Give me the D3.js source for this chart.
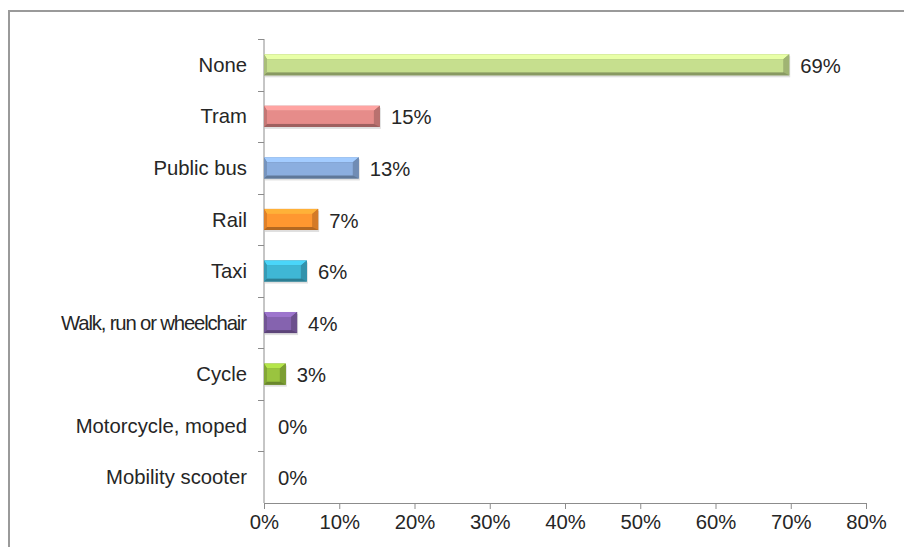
<!DOCTYPE html>
<html>
<head>
<meta charset="utf-8">
<script src="https://cdn.jsdelivr.net/npm/d3@7"></script>
<style>
  body { margin: 0; background: #fff; }
  text { font-family: "Liberation Sans", Arial, sans-serif; fill: #262626; }
</style>
</head>
<body>
<div id="chart"></div>
<script>
// survey answers, share of respondents
var categories = ["None", "Tram", "Public bus", "Rail", "Taxi", "Walk, run or wheelchair", "Cycle", "Motorcycle, moped", "Mobility scooter"];
var values = [69.8, 15.4, 12.6, 7.2, 5.7, 4.4, 2.9, 0, 0];
var valueLabels = ["69%", "15%", "13%", "7%", "6%", "4%", "3%", "0%", "0%"];
var xTicks = [0, 10, 20, 30, 40, 50, 60, 70, 80];
var barColours = ["#b5cc82", "#d2807e", "#7f9fcc", "#f08a2c", "#3aa7c3", "#7a5ba0", "#8db33a", "#9bbb59", "#9bbb59"];

var width = 904, height = 547;
// note: "top" is taken by window.top, so plot edges get their own names
var plotLeft = 264, plotRight = 866, plotTop = 39, plotBottom = 503;
var fontSize = 20.3;

var svg = d3.select("#chart").append("svg")
    .attr("width", width)
    .attr("height", height);

// outer frame, runs off the right and bottom edge
svg.append("rect")
    .attr("x", 9).attr("y", 11)
    .attr("width", 920).attr("height", 560)
    .attr("fill", "none")
    .attr("stroke", "#9a9a9a")
    .attr("stroke-width", 2);

var x = d3.scaleLinear().domain([0, 80]).range([plotLeft, plotRight]);
var y = d3.scaleBand().domain(categories).range([plotTop, plotBottom]).paddingInner(0.59).paddingOuter(0.295);
var yb = d3.scaleBand().domain(categories).range([plotTop, plotBottom]);

// y axis line + ticks between bands
svg.append("line")
    .attr("x1", plotLeft).attr("x2", plotLeft)
    .attr("y1", plotTop).attr("y2", plotBottom)
    .attr("stroke", "#8c8c8c");
svg.selectAll(".ytick").data(categories).enter().append("line")
    .attr("x1", plotLeft - 6).attr("x2", plotLeft)
    .attr("y1", function(d) { return Math.round(yb(d)) + 0.5; })
    .attr("y2", function(d) { return Math.round(yb(d)) + 0.5; })
    .attr("stroke", "#8c8c8c");

// x axis
var xAxis = svg.append("g")
    .attr("transform", "translate(0," + plotBottom + ")")
    .call(d3.axisBottom(x).tickValues(xTicks).tickSize(6).tickFormat(function(d) { return d + "%"; }));
xAxis.select(".domain").attr("stroke", "#8c8c8c");
xAxis.selectAll(".tick line").attr("stroke", "#8c8c8c");
xAxis.selectAll("text")
    .attr("font-size", fontSize)
    .attr("y", 12)
    .style("font-family", "'Liberation Sans', Arial, sans-serif")
    .attr("fill", "#262626");

// category labels (long one is tightly spaced like in the original)
svg.selectAll(".cat").data(categories).enter().append("text")
    .attr("x", plotLeft - 17)
    .attr("y", function(d) { return yb(d) + yb.bandwidth() / 2; })
    .attr("dy", "0.35em")
    .attr("text-anchor", "end")
    .attr("font-size", fontSize)
    .text(function(d) { return d; })
    .each(function() {
      if (this.getComputedTextLength() > 186) {
        d3.select(this).attr("textLength", 186).attr("lengthAdjust", "spacing");
      }
    });

// bevelled bars
var bars = svg.selectAll(".bar").data(categories).enter().append("g");
bars.each(function(d, i) {
  if (values[i] <= 0) return;
  var g = d3.select(this);
  var x0 = x(0), x1 = x(values[i]);
  var y0 = y(d), h = y.bandwidth(), y1 = y0 + h;
  var c = d3.color(barColours[i]);
  var bt = 5, br = 6, bb = 3, bl = 3;
  // shadow
  g.append("rect").attr("x", x0 + 1).attr("y", y0 + 2).attr("width", x1 - x0).attr("height", h)
    .attr("fill", "#000").attr("opacity", 0.12);
  // base
  g.append("rect").attr("x", x0).attr("y", y0).attr("width", x1 - x0).attr("height", h)
    .attr("fill", c.darker(0.5));
  var inner = [[x0 + bl, y0 + bt], [x1 - br, y0 + bt], [x1 - br, y1 - bb], [x0 + bl, y1 - bb]];
  // top facet
  g.append("polygon").attr("points", [[x0, y0], [x1, y0], inner[1], inner[0]].join(" "))
    .attr("fill", c.brighter(0.7));
  // right facet
  g.append("polygon").attr("points", [[x1, y0], [x1, y1], inner[2], inner[1]].join(" "))
    .attr("fill", c.darker(0.35));
  // bottom facet
  g.append("polygon").attr("points", [[x0, y1], [x1, y1], inner[2], inner[3]].join(" "))
    .attr("fill", c.darker(0.8));
  // left facet
  g.append("polygon").attr("points", [[x0, y0], inner[0], inner[3], [x0, y1]].join(" "))
    .attr("fill", c.darker(0.2));
  // face
  g.append("rect").attr("x", inner[0][0]).attr("y", inner[0][1])
    .attr("width", Math.max(0, inner[1][0] - inner[0][0])).attr("height", inner[2][1] - inner[1][1])
    .attr("fill", c.brighter(0.25));
});

// value labels
svg.selectAll(".val").data(categories).enter().append("text")
    .attr("x", function(d, i) { return x(values[i]) + (values[i] > 0 ? 11 : 14); })
    .attr("y", function(d) { return yb(d) + yb.bandwidth() / 2 + 1; })
    .attr("dy", "0.35em")
    .attr("font-size", fontSize)
    .text(function(d, i) { return valueLabels[i]; });
</script>
</body>
</html>
